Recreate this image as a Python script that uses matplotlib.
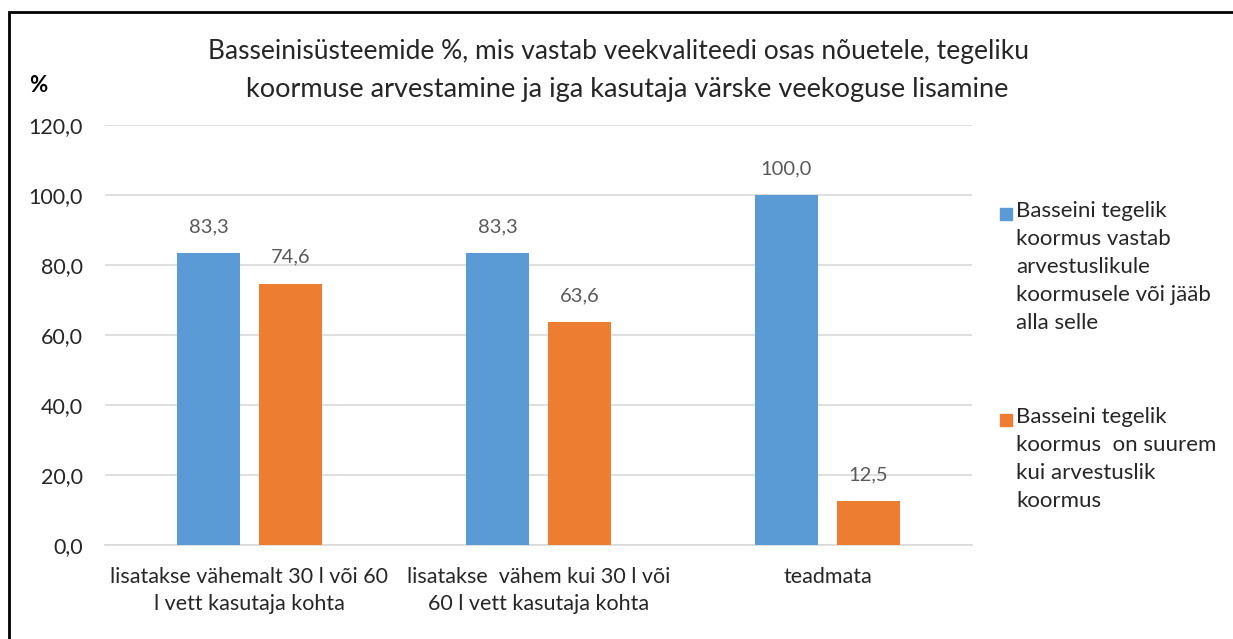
import matplotlib
matplotlib.use("Agg")
import matplotlib.pyplot as plt
from matplotlib.patches import Rectangle
import numpy as np

plt.rcParams['font.family'] = ['Lato', 'DejaVu Sans']

categories = ["lisatakse vähemalt 30 l või 60\nl vett kasutaja kohta",
              "lisatakse  vähem kui 30 l või\n60 l vett kasutaja kohta",
              "teadmata"]
series_names = ["Basseini tegelik\nkoormus vastab\narvestuslikule\nkoormusele või jääb\nalla selle",
                "Basseini tegelik\nkoormus  on suurem\nkui arvestuslik\nkoormus"]
within = [83.3, 83.3, 100.0]
above = [74.6, 63.6, 12.5]
colors = ["#5B9BD5", "#ED7D31"]
yticks = [0, 20, 40, 60, 80, 100, 120]

W, H = 1233, 639
fig = plt.figure(figsize=(W / 100, H / 100), dpi=100)
ax = fig.add_axes([105 / W, 1 - 545 / H, (972 - 105) / W, (545 - 125) / H])

x = np.arange(len(categories))
bw = 0.22
off = 0.142
for vals, sign, col in [(within, -1, colors[0]), (above, 1, colors[1])]:
    bars = ax.bar(x + sign * off, vals, width=bw, color=col, zorder=3)
    for b, v in zip(bars, vals):
        ax.annotate(f"{v:.1f}".replace(".", ","), (b.get_x() + b.get_width() / 2, v),
                    xytext=(0, 13), textcoords="offset points", ha="center", va="bottom",
                    fontsize=14.5, color="#595959")

ax.set_xlim(-0.5, 2.5)
ax.set_ylim(0, 120)
ax.set_yticks(yticks)
ax.set_yticklabels([f"{t:.1f}".replace(".", ",") for t in yticks], fontsize=15.5, color="#262626")
ax.set_xticks(x)
ax.set_xticklabels(categories, fontsize=15.5, color="#262626", linespacing=1.42)
ax.tick_params(length=0, axis="y", pad=16)
ax.tick_params(length=0, axis="x", pad=16)
ax.grid(axis="y", color="#D9D9D9", linewidth=1.2, zorder=0)
for s in ["top", "right", "left"]:
    ax.spines[s].set_visible(False)
ax.spines["bottom"].set_color("#D9D9D9")
ax.spines["bottom"].set_linewidth(1.2)

fig.text(618 / W, 1 - 52 / H, "Basseinisüsteemide %, mis vastab veekvaliteedi osas nõuetele, tegeliku",
         ha="center", va="center", fontsize=19, color="#262626")
fig.text(627 / W, 1 - 89 / H, "koormuse arvestamine ja iga kasutaja värske veekoguse lisamine",
         ha="center", va="center", fontsize=19.5, color="#262626")
fig.text(29 / W, 1 - 86 / H, "%", ha="left", va="center", fontsize=16, fontweight="bold")

# legend drawn by hand so the marker sits on the first line
for name, col, ytop in zip(series_names, colors, [201, 407]):
    fig.patches.append(Rectangle((1000 / W, 1 - (ytop + 19) / H), 12 / W, 12 / H,
                                 transform=fig.transFigure, color=col))
    fig.text(1016 / W, 1 - ytop / H, name, ha="left", va="top", fontsize=16,
             color="#262626", linespacing=1.5)

# frame
fig.patches.append(Rectangle((8.5 / W, -0.1), 1.2, 1 - 12.5 / H + 0.1, transform=fig.transFigure,
                             fill=False, edgecolor="black", linewidth=2))

fig.savefig("out.png", dpi=100)
